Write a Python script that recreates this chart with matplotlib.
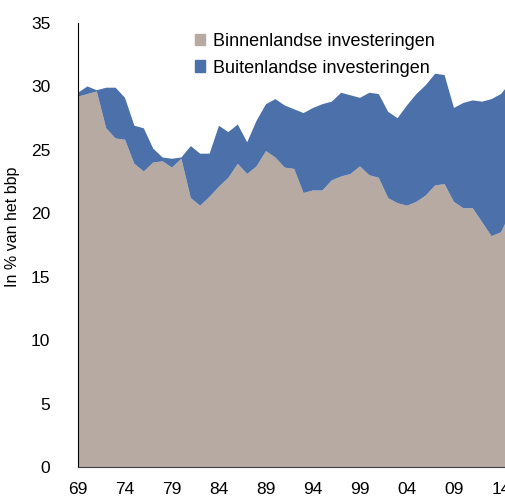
import matplotlib
matplotlib.use("Agg")
import matplotlib.pyplot as plt
from matplotlib.patches import Patch

plt.rcParams['font.family'] = ['Liberation Sans', 'DejaVu Sans']

years = list(range(1969, 2016))
binnenlands = [29.2, 29.4, 29.6, 26.7, 25.9, 25.8, 23.9, 23.3, 24.0, 24.1,
               23.6, 24.3, 21.2, 20.6, 21.3, 22.1, 22.8, 23.9, 23.1, 23.7,
               24.9, 24.4, 23.6, 23.5, 21.6, 21.8, 21.8, 22.6, 22.9, 23.1,
               23.7, 23.0, 22.8, 21.2, 20.8, 20.6, 20.9, 21.4, 22.2, 22.3,
               20.9, 20.4, 20.4, 19.3, 18.2, 18.5, 20.0]
buitenlands = [0.3, 0.6, 0.1, 3.2, 4.0, 3.3, 3.0, 3.4, 1.1, 0.3,
               0.7, 0.1, 4.1, 4.1, 3.4, 4.8, 3.6, 3.1, 2.5, 3.6,
               3.7, 4.6, 4.9, 4.7, 6.3, 6.5, 6.8, 6.2, 6.6, 6.2,
               5.4, 6.5, 6.6, 6.8, 6.7, 7.9, 8.5, 8.7, 8.8, 8.6,
               7.4, 8.3, 8.5, 9.5, 10.8, 10.9, 10.3]
tick_years = list(range(1969, 2015, 5))
tick_labels = [f"{y % 100:02d}" for y in tick_years]

col_binnen = "#B7AAA2"
col_buiten = "#4C70A9"

fig = plt.figure(figsize=(5.05, 4.98), dpi=100)
ax = fig.add_axes([0.1545, 0.0622, 0.8455, 0.8916])

ax.stackplot(years, binnenlands, buitenlands, colors=[col_binnen, col_buiten], linewidth=0)

ax.set_xlim(1969, 2014.43)
ax.set_ylim(0, 35)
ax.set_yticks(range(0, 36, 5))
ax.set_xticks(tick_years)
ax.set_xticklabels(tick_labels)
ax.tick_params(length=0, labelsize=12.5, colors="black")
ax.tick_params(axis="x", pad=11)
ax.tick_params(axis="y", pad=20)
ax.set_ylabel("In % van het bbp", fontsize=11.5)
ax.yaxis.set_label_coords(-0.135, 0.54)

for side in ["top", "right"]:
    ax.spines[side].set_visible(False)
ax.spines["left"].set_color("black")
ax.spines["bottom"].set_color("#404040")

handles = [Patch(color=col_binnen, label="Binnenlandse investeringen"),
           Patch(color=col_buiten, label="Buitenlandse investeringen")]
ax.legend(handles=handles, loc="upper left", bbox_to_anchor=(0.235, 1.015), frameon=False,
          fontsize=13, handlelength=0.6, handleheight=0.6, handletextpad=0.4,
          labelspacing=0.55)

fig.savefig("out.png", dpi=100)
